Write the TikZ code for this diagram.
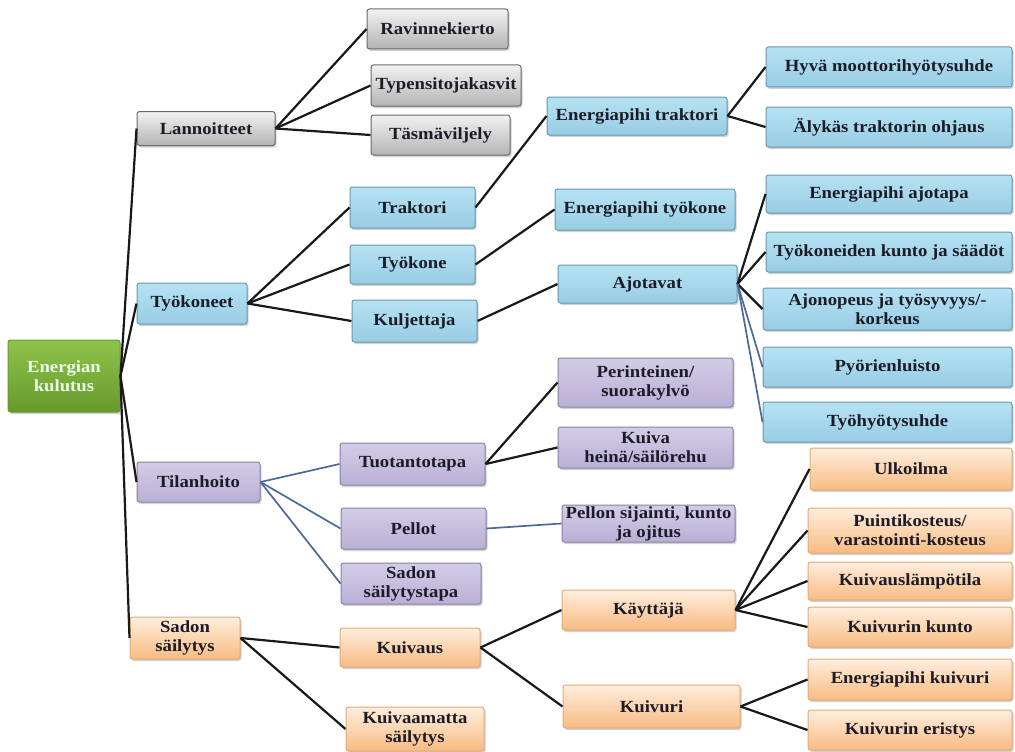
\documentclass[tikz,border=0pt]{standalone}
\usepackage{fontspec}
\setmainfont{Liberation Serif}[FakeStretch=1.1]
\usetikzlibrary{shadows}
\definecolor{txt}{HTML}{1C1C28}
\definecolor{gtop}{HTML}{F2F2F2}\definecolor{gbot}{HTML}{B4B4B4}\definecolor{gdraw}{HTML}{6A6A6A}
\definecolor{btop}{HTML}{B6E2F3}\definecolor{bbot}{HTML}{98CDE4}\definecolor{bdraw}{HTML}{6898B0}
\definecolor{ptop}{HTML}{D3CCE6}\definecolor{pbot}{HTML}{BAB0D6}\definecolor{pdraw}{HTML}{8882A4}
\definecolor{otop}{HTML}{FEEEDD}\definecolor{obot}{HTML}{F8BB82}\definecolor{odraw}{HTML}{E0AA7C}
\definecolor{grtop}{HTML}{8FC34A}\definecolor{grbot}{HTML}{679A2C}\definecolor{grdraw}{HTML}{6A9A33}
\definecolor{bline}{HTML}{4A6A98}
\tikzset{
  box/.style={draw, rounded corners=2.5pt, line width=1pt, inner sep=1pt, align=center,
    text=txt, font=\fontsize{17}{19}\selectfont\bfseries,
    drop shadow={shadow xshift=1.5pt, shadow yshift=-2pt, opacity=0.35}},
  gbox/.style={box, top color=gtop, bottom color=gbot, draw=gdraw},
  bbox/.style={box, top color=btop, bottom color=bbot, draw=bdraw},
  pbox/.style={box, top color=ptop, bottom color=pbot, draw=pdraw},
  obox/.style={box, top color=otop, bottom color=obot, draw=odraw},
  rbox/.style={box, top color=grtop, bottom color=grbot, draw=grdraw, text=white!92!green},
  conn/.style={line width=2.2pt, black!90},
  bconn/.style={line width=1.7pt, bline},
}
\begin{document}
\begin{tikzpicture}[x=1pt,y=-1pt]
\useasboundingbox[fill=white] (0,0) rectangle (1015,752);
% root
\node[rbox, minimum width=112, minimum height=72] (root) at (64,376) {Energian\\kulutus};
% level 1
\node[gbox, minimum width=138, minimum height=34] (lan) at (206,128.5) {Lannoitteet};
\node[bbox, minimum width=110, minimum height=41] (tyk) at (192,303.5) {Työkoneet};
\node[pbox, minimum width=123, minimum height=40] (til) at (198.5,482) {Tilanhoito};
\node[obox, minimum width=110, minimum height=42] (ss) at (185,638) {Sadon\\säilytys};
% Lannoitteet children
\node[gbox, minimum width=141, minimum height=40] (rav) at (437.5,29) {Ravinnekierto};
\node[gbox, minimum width=150, minimum height=41] (typ) at (446,85.5) {Typensitojakasvit};
\node[gbox, minimum width=139, minimum height=40] (tas) at (440.5,135) {Täsmäviljely};
% Työkoneet children
\node[bbox, minimum width=125, minimum height=41] (tra) at (412.5,207.5) {Traktori};
\node[bbox, minimum width=125, minimum height=39] (tkone) at (412.5,264.5) {Työkone};
\node[bbox, minimum width=125, minimum height=42] (kul) at (414.5,321) {Kuljettaja};
\node[bbox, minimum width=180, minimum height=38] (ept) at (637,116) {Energiapihi traktori};
\node[bbox, minimum width=246, minimum height=40] (hyva) at (889,67) {Hyvä moottorihyötysuhde};
\node[bbox, minimum width=246, minimum height=40] (aly) at (889,127) {Älykäs traktorin ohjaus};
\node[bbox, minimum width=180, minimum height=41] (epk) at (645,209.5) {Energiapihi työkone};
\node[bbox, minimum width=179, minimum height=38] (ajo) at (647.5,284) {Ajotavat};
\node[bbox, minimum width=246, minimum height=38] (eaj) at (889,194) {Energiapihi ajotapa};
\node[bbox, minimum width=246, minimum height=40] (tks) at (889,252) {Työkoneiden kunto ja säädöt};
\node[bbox, minimum width=249, minimum height=42] (ajn) at (887.5,309) {Ajonopeus ja työsyvyys/-\\korkeus};
\node[bbox, minimum width=249, minimum height=40] (pyo) at (887.5,367) {Pyörienluisto};
\node[bbox, minimum width=249, minimum height=40] (tyh) at (887.5,422) {Työhyötysuhde};
% Tilanhoito children
\node[pbox, minimum width=145, minimum height=42] (tuo) at (412.5,464) {Tuotantotapa};
\node[pbox, minimum width=145, minimum height=41] (pel) at (413.5,528.5) {Pellot};
\node[pbox, minimum width=140, minimum height=41] (sst) at (411,583.5) {Sadon\\säilytystapa};
\node[pbox, minimum width=175, minimum height=49] (per) at (645.5,382.5) {Perinteinen/\\suorakylvö};
\node[pbox, minimum width=175, minimum height=41] (kuh) at (645.5,447.5) {Kuiva\\heinä/säilörehu};
\node[pbox, minimum width=173, minimum height=37] (psk) at (648.5,523.5) {Pellon sijainti, kunto\\ja ojitus};
% Sadon säilytys children
\node[obox, minimum width=140, minimum height=39] (kva) at (410,647.5) {Kuivaus};
\node[obox, minimum width=138, minimum height=44] (kvm) at (415,729) {Kuivaamatta\\säilytys};
\node[obox, minimum width=173, minimum height=40] (kay) at (648.5,610) {Käyttäjä};
\node[obox, minimum width=177, minimum height=43] (kvr) at (651.5,706.5) {Kuivuri};
\node[obox, minimum width=202, minimum height=42] (ulk) at (911,469) {Ulkoilma};
\node[obox, minimum width=204, minimum height=45] (pui) at (910,530.5) {Puintikosteus/\\varastointi-kosteus};
\node[obox, minimum width=204, minimum height=38] (klp) at (910,581) {Kuivauslämpötila};
\node[obox, minimum width=204, minimum height=40] (kku) at (910,627) {Kuivurin kunto};
\node[obox, minimum width=204, minimum height=41] (ekv) at (910,679.5) {Energiapihi kuivuri};
\node[obox, minimum width=204, minimum height=40] (ker) at (910,730) {Kuivurin eristys};
% connectors
\draw[conn] (root.east) -- (lan.west);
\draw[conn] (root.east) -- (tyk.west);
\draw[conn] (root.east) -- (til.west);
\draw[conn] (root.east) -- (ss.west);
\draw[conn] (lan.east) -- (rav.west);
\draw[conn] (lan.east) -- (typ.west);
\draw[conn] (lan.east) -- (tas.west);
\draw[conn] (tyk.east) -- (tra.west);
\draw[conn] (tyk.east) -- (tkone.west);
\draw[conn] (tyk.east) -- (kul.west);
\draw[conn] (tra.east) -- (ept.west);
\draw[conn] (tkone.east) -- (epk.west);
\draw[conn] (kul.east) -- (ajo.west);
\draw[conn] (ept.east) -- (hyva.west);
\draw[conn] (ept.east) -- (aly.west);
\draw[conn] (ajo.east) -- (eaj.west);
\draw[conn] (ajo.east) -- (tks.west);
\draw[conn] (ajo.east) -- (ajn.west);
\draw[bconn] (ajo.east) -- (pyo.west);
\draw[bconn] (ajo.east) -- (tyh.west);
\draw[bconn] (til.east) -- (tuo.west);
\draw[bconn] (til.east) -- (pel.west);
\draw[bconn] (til.east) -- (sst.west);
\draw[conn] (tuo.east) -- (per.west);
\draw[conn] (tuo.east) -- (kuh.west);
\draw[bconn] (pel.east) -- (psk.west);
\draw[conn] (ss.east) -- (kva.west);
\draw[conn] (ss.east) -- (kvm.west);
\draw[conn] (kva.east) -- (kay.west);
\draw[conn] (kva.east) -- (kvr.west);
\draw[conn] (kay.east) -- (ulk.west);
\draw[conn] (kay.east) -- (pui.west);
\draw[conn] (kay.east) -- (klp.west);
\draw[conn] (kay.east) -- (kku.west);
\draw[conn] (kvr.east) -- (ekv.west);
\draw[conn] (kvr.east) -- (ker.west);
\end{tikzpicture}
\end{document}
